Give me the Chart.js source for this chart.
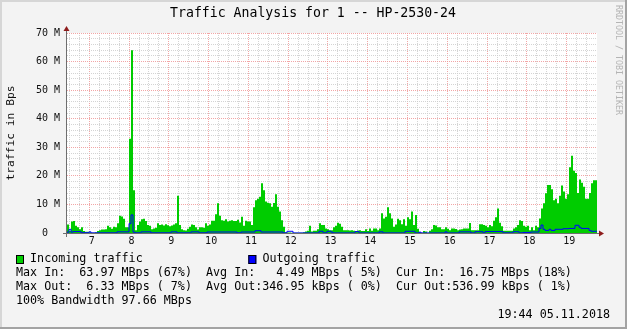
<!DOCTYPE html>
<html><head><meta charset="utf-8">
<script src="https://cdn.jsdelivr.net/npm/chart.js@4.4.0/dist/chart.umd.min.js"></script>
<style>html,body{margin:0;padding:0;background:#f3f3f3;}canvas{display:block;}</style>
</head><body>
<canvas id="c" width="627" height="329"></canvas>
<script>
// ---------- text ----------
const titleText = 'Traffic Analysis for 1 -- HP-2530-24';
const yAxisTitle = 'traffic in Bps';
const watermarkText = 'RRDTOOL / TOBI OETIKER';
const legendLabels = ['Incoming traffic', 'Outgoing traffic'];
const statsLines = [
  'Max In:  63.97 MBps (67%)  Avg In:   4.49 MBps ( 5%)  Cur In:  16.75 MBps (18%)',
  'Max Out:  6.33 MBps ( 7%)  Avg Out:346.95 kBps ( 0%)  Cur Out:536.99 kBps ( 1%)',
  '100% Bandwidth 97.66 MBps'
];
const timestampText = '19:44 05.11.2018';

// ---------- axes ----------
const timeStart = 6.4394;   // day of month at left edge of the plot
const timeEnd = 19.7627;    // day of month at right edge of the plot
const dayTicks = [7, 8, 9, 10, 11, 12, 13, 14, 15, 16, 17, 18, 19];
const yMajorTicks = [0, 10, 20, 30, 40, 50, 60, 70];
const yTickLabels = ['0  ', '10 M', '20 M', '30 M', '40 M', '50 M', '60 M', '70 M'];
const yMax = 70;

// ---------- series (MBps, one value per sample) ----------
const inTraffic = [
  6.0,3.0,0.8,4.0,4.2,2.5,2.0,1.3,2.0,0.7,
  0.4,0.4,0.3,0.1,0.1,0.3,0.7,1.0,1.2,1.2,
  1.3,2.5,2.0,1.5,2.2,2.0,3.4,6.0,5.8,5.0,
  2.0,2.0,33.0,64.0,15.0,1.0,2.8,4.0,4.8,5.0,
  4.2,2.8,2.5,1.3,1.6,1.8,3.4,2.8,3.0,2.6,
  3.1,2.7,2.4,2.6,3.0,3.4,13.0,2.8,1.3,1.0,
  0.9,1.5,2.2,3.0,2.8,2.0,1.2,2.0,2.0,1.8,
  3.4,2.5,3.0,4.3,4.3,6.6,10.4,6.0,4.5,4.3,
  4.8,4.0,4.3,4.5,4.2,4.2,4.6,3.7,5.7,2.5,
  4.3,4.0,4.0,2.8,9.0,11.5,12.0,12.7,17.4,15.0,
  11.0,10.6,10.4,9.2,10.5,13.6,9.2,7.5,4.5,2.2,
  0.3,0.2,0.2,0.1,0.05,0.05,0.05,0.05,0.05,0.3,
  0.5,0.8,2.5,0.5,0.8,0.8,1.3,3.4,2.8,2.8,
  1.6,1.3,1.0,1.0,2.0,2.5,3.6,3.2,2.2,1.0,
  1.0,1.0,0.9,1.0,0.8,0.7,0.9,1.0,0.7,0.7,
  1.3,0.7,1.6,0.8,1.6,1.6,1.0,1.6,6.9,5.1,
  5.7,9.0,6.9,5.1,2.2,3.0,5.0,4.5,3.1,4.8,
  2.5,5.5,4.8,7.5,2.8,6.3,1.5,0.3,0.1,0.7,
  0.5,0.05,0.8,1.3,2.8,2.6,2.0,2.0,1.3,1.3,
  2.0,1.5,1.0,1.6,1.6,1.4,1.0,1.2,1.3,1.6,
  1.6,1.6,3.5,1.0,1.0,1.0,1.0,3.1,3.1,2.8,
  2.5,2.0,2.8,2.4,4.3,5.5,8.6,3.6,2.4,0.8,
  0.8,0.8,0.8,0.8,1.6,2.0,2.8,4.5,4.2,2.5,
  2.2,2.5,1.0,2.0,1.0,2.5,2.0,5.1,8.6,10.4,
  13.9,16.8,16.8,15.3,11.5,12.0,10.4,13.0,16.6,14.5,
  12.0,13.6,23.0,27.0,21.8,21.0,14.0,18.7,17.6,16.2,
  12.0,12.0,14.0,17.4,18.5
];
const outTraffic = [
  0.3,0.3,1.3,0.3,0.5,0.5,0.5,0.5,0.1,0.1,
  0.1,0.1,0.4,0.05,0.05,0.05,0.05,0.05,0.05,0.05,
  0.05,0.05,0.05,0.05,0.05,0.05,0.4,0.4,0.4,0.4,
  0.4,0.4,3.3,6.33,0.3,0.05,0.05,0.05,0.4,0.4,
  0.4,0.4,0.4,0.05,0.05,0.05,0.05,0.05,0.05,0.05,
  0.05,0.05,0.05,0.4,0.4,0.4,0.05,0.05,0.05,0.05,
  0.05,0.05,0.05,0.4,0.4,0.4,0.4,0.05,0.05,0.05,
  0.05,0.35,0.35,0.35,0.35,0.35,0.35,0.35,0.35,0.35,
  0.35,0.35,0.35,0.35,0.35,0.35,0.05,0.05,0.35,0.35,
  0.35,0.35,0.35,0.35,0.35,0.8,0.8,0.8,0.35,0.35,
  0.35,0.35,0.35,0.35,0.35,0.35,0.35,0.35,0.35,0.05,
  0.05,0.6,0.6,0.6,0.02,0.02,0.02,0.02,0.02,0.02,
  0.02,0.02,0.02,0.02,0.02,0.02,0.02,0.6,0.6,0.05,
  0.05,0.6,0.6,0.3,0.02,0.02,0.02,0.02,0.02,0.02,
  0.02,0.02,0.02,0.02,0.02,0.5,0.5,0.02,0.02,0.02,
  0.02,0.02,0.02,0.02,0.02,0.02,0.02,0.4,0.4,0.02,
  0.02,0.02,0.02,0.02,0.02,0.02,0.02,0.02,0.02,0.02,
  0.6,0.6,0.6,0.6,0.6,0.02,0.02,0.3,0.02,0.02,
  0.02,0.02,0.02,0.02,0.02,0.02,0.02,0.02,0.02,0.02,
  0.4,0.02,0.02,0.02,0.02,0.02,0.02,0.4,0.4,0.4,
  0.4,0.4,0.4,0.02,0.02,0.45,0.45,0.45,0.45,0.05,
  0.5,0.5,0.5,0.5,0.5,0.5,0.5,0.5,0.5,0.05,
  0.05,0.05,0.05,0.05,0.45,0.45,0.45,0.05,0.05,0.2,
  0.2,0.2,0.2,0.35,0.35,0.35,0.35,1.6,2.8,1.3,
  0.9,0.9,1.3,0.9,0.9,1.3,1.3,1.3,1.3,1.5,
  1.5,1.5,1.6,1.6,1.6,2.7,2.7,2.0,1.6,1.6,
  1.6,1.6,0.9,0.6,0.6
];

// ---------- build ----------
const MONO = "'DejaVu Sans Mono', 'Liberation Mono', monospace";
const binWidth = (timeEnd - timeStart) / inTraffic.length;
function toPoints(arr) {
  const pts = arr.map((v, i) => ({x: timeStart + i * binWidth, y: v}));
  pts.push({x: timeEnd, y: arr[arr.length - 1]});
  return pts;
}
const MAJOR = 'rgba(240,150,150,0.85)';
const MINOR = 'rgba(205,205,205,0.85)';

const framePlugin = {
  id: 'frame',
  beforeDraw(chart) {
    const c = chart.ctx, a = chart.chartArea, W = chart.width, H = chart.height;
    c.save();
    c.fillStyle = '#f3f3f3'; c.fillRect(0, 0, W, H);
    c.fillStyle = '#d6d6d6'; c.fillRect(0, 0, W, 2); c.fillRect(0, 0, 2, H);
    c.fillStyle = '#a3a3a3'; c.fillRect(0, H - 2, W, 2); c.fillRect(W - 2, 0, 2, H);
    c.fillStyle = '#ffffff'; c.fillRect(a.left, a.top, a.right - a.left, a.bottom - a.top);
    c.restore();
  },
  afterDraw(chart) {
    const c = chart.ctx, a = chart.chartArea;
    c.save();
    // axes
    c.strokeStyle = '#6e6e6e'; c.lineWidth = 1;
    c.beginPath();
    c.moveTo(a.left - 0.5, a.bottom + 4); c.lineTo(a.left - 0.5, a.top - 4);
    c.moveTo(a.left - 4, a.bottom + 0.5); c.lineTo(a.right + 4, a.bottom + 0.5);
    c.stroke();
    c.fillStyle = '#8e1c1c';
    c.beginPath();
    c.moveTo(a.left - 0.5, a.top - 7); c.lineTo(a.left - 3.5, a.top - 2); c.lineTo(a.left + 2.5, a.top - 2); c.closePath(); c.fill();
    c.beginPath();
    c.moveTo(a.right + 7, a.bottom + 0.5); c.lineTo(a.right + 2, a.bottom - 2.5); c.lineTo(a.right + 2, a.bottom + 3.5); c.closePath(); c.fill();
    // title
    c.fillStyle = '#000';
    c.textBaseline = 'middle';
    c.textAlign = 'center';
    c.font = '13.2px ' + MONO;
    c.fillText(titleText, 313, 13.5);
    // watermark
    c.save();
    c.translate(618.5, 60);
    c.rotate(Math.PI / 2);
    c.font = '8.3px ' + MONO;
    c.fillStyle = '#b4b4b4';
    c.fillText(watermarkText, 0, 0);
    c.restore();
    // legend
    const ch = 7.04, x0 = 16;
    c.textAlign = 'left';
    c.font = '11.7px ' + MONO;
    const boxColors = ['#00cc00', '#0000ff'];
    const legendCols = [0, 33];
    legendLabels.forEach((lab, k) => {
      const bx = x0 + legendCols[k] * ch;
      c.fillStyle = boxColors[k];
      c.fillRect(bx, 255, 8, 9);
      c.strokeStyle = '#000'; c.lineWidth = 1;
      c.strokeRect(bx + 0.5, 255.5, 7, 8);
      c.fillStyle = '#000';
      c.fillText(lab, bx + 2 * ch, 259);
    });
    statsLines.forEach((s, k) => c.fillText(s, x0, 273 + 14 * k));
    c.textAlign = 'right';
    c.fillText(timestampText, 610, 315);
    c.restore();
  }
};

new Chart(document.getElementById('c'), {
  type: 'line',
  data: {
    datasets: [
      { label: legendLabels[1], data: toPoints(outTraffic), stepped: 'after',
        borderColor: '#0000ff', borderWidth: 1, pointRadius: 0, fill: false, order: 1 },
      { label: legendLabels[0], data: toPoints(inTraffic), stepped: 'after',
        borderColor: 'rgba(0,0,0,0)', borderWidth: 0, backgroundColor: '#00cc00',
        fill: 'origin', pointRadius: 0, order: 2 }
    ]
  },
  options: {
    responsive: false, animation: false, events: [],
    devicePixelRatio: 1,
    layout: { padding: { left: 0, top: 33, right: 30, bottom: 0 } },
    plugins: { legend: { display: false }, tooltip: { enabled: false }, title: { display: false } },
    scales: {
      x: {
        type: 'linear', min: timeStart, max: timeEnd,
        afterBuildTicks: s => {
          const t = [];
          for (let k = Math.ceil(timeStart * 4); k / 4 < timeEnd - 0.02; k++) t.push({ value: k / 4 });
          s.ticks = t;
        },
        afterFit: s => { s.height = 96; },
        grid: { color: c => Number.isInteger(c.tick.value) ? MAJOR : MINOR, lineWidth: 1, drawTicks: false },
        border: { display: false, dash: [1, 1] },
        ticks: {
          autoSkip: false, maxRotation: 0, minRotation: 0, padding: 2, labelOffset: 2.5,
          color: '#111', font: { family: MONO, size: 10 },
          callback: v => dayTicks.includes(v) ? String(v) : ''
        }
      },
      y: {
        type: 'linear', min: 0, max: yMax,
        afterBuildTicks: s => {
          const t = [];
          for (let v = 0; v <= yMax; v += 2) t.push({ value: v });
          s.ticks = t;
        },
        afterFit: s => { s.width = 67; },
        grid: { color: c => (c.tick.value % 10 === 0) ? MAJOR : MINOR, lineWidth: 1, drawTicks: false },
        border: { display: false, dash: [1, 1] },
        ticks: {
          autoSkip: false, padding: 7, color: '#111', font: { family: MONO, size: 10 },
          callback: v => { const k = yMajorTicks.indexOf(v); return k >= 0 ? yTickLabels[k] : ''; }
        },
        title: { display: true, text: yAxisTitle, color: '#111',
                 font: { family: MONO, size: 11.3 }, padding: { top: 4, bottom: 0 } }
      }
    }
  },
  plugins: [framePlugin]
});
</script>
</body></html>
